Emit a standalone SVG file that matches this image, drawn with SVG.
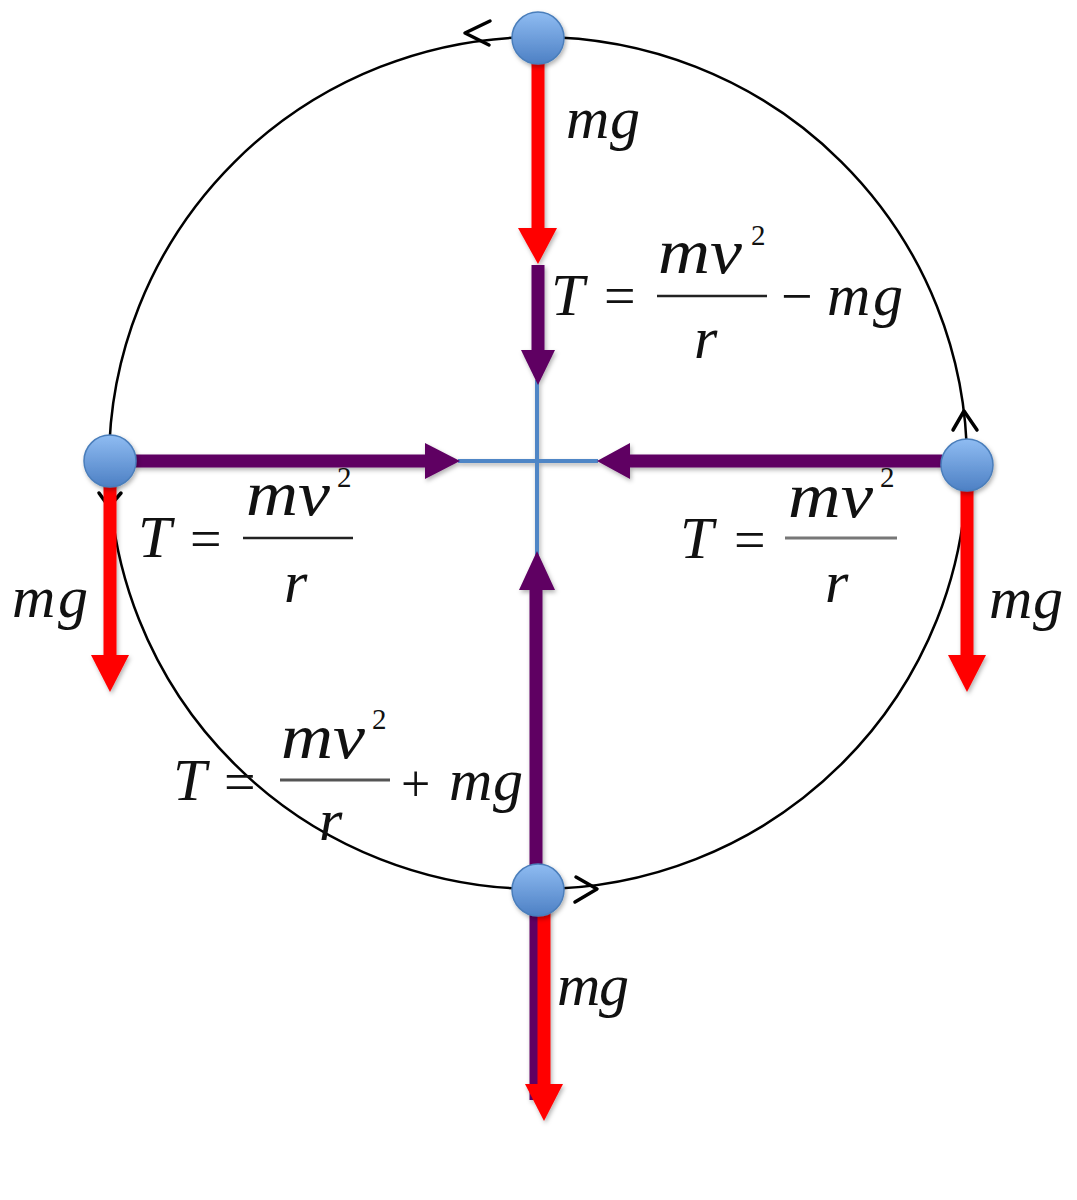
<svg xmlns="http://www.w3.org/2000/svg" width="1077" height="1200" viewBox="0 0 1077 1200">
<style>
.t{font-family:"Liberation Serif","Times New Roman",serif;font-style:italic;fill:#111}
.n{font-family:"Liberation Serif","Times New Roman",serif;fill:#111}
.red{stroke:#ff0000;stroke-width:13;fill:none}
.redh{fill:#ff0000}
.pur{stroke:#5e0062;stroke-width:13;fill:none}
.purh{fill:#5e0062}
.str{stroke:#4f86c6;stroke-width:4;fill:none}
.chev{stroke:#000;stroke-width:3.5;fill:none;stroke-linecap:round;stroke-linejoin:round}
.bar{stroke:#222;stroke-width:2.5}
.ball{fill:url(#bg);stroke:#4a7ebb;stroke-width:1.5}
</style>
<defs>
<linearGradient id="bg" x1="0" y1="0" x2="0" y2="1">
<stop offset="0" stop-color="#8fbcf2"/>
<stop offset="1" stop-color="#4d80c4"/>
</linearGradient>
<filter id="sh" x="-30%" y="-30%" width="160%" height="160%">
<feDropShadow dx="1.5" dy="2.5" stdDeviation="2" flood-color="#000" flood-opacity="0.3"/>
</filter>
</defs>
<rect width="1077" height="1200" fill="#fff"/>
<g id="path-circle">
<ellipse cx="538" cy="463" rx="429" ry="426" fill="none" stroke="#000" stroke-width="2.5"/>
<polyline class="chev" points="490,21 465,33 489,45"/>
<polyline class="chev" points="953,430 964,411 977,430"/>
<polyline class="chev" points="99,493 109,507 121,493"/>
<polyline class="chev" points="576,877 597,889 575,902"/>
</g>
<g id="connectors" filter="url(#sh)">
<line class="str" x1="537" y1="380" x2="537" y2="555"/>
<line class="str" x1="458" y1="461" x2="598" y2="461"/>
<line class="pur" x1="538" y1="265" x2="538" y2="352"/>
<polygon class="purh" points="521,350 555,350 538,385"/>
<line class="pur" x1="135" y1="461" x2="427" y2="461"/>
<polygon class="purh" points="425,443 425,479 460,461"/>
<line class="pur" x1="942" y1="461" x2="628" y2="461"/>
<polygon class="purh" points="630,443 630,479 597,461"/>
<line class="pur" x1="536" y1="1100" x2="536" y2="588"/>
<polygon class="purh" points="519,590 555,590 537,551"/>
<line class="red" x1="538" y1="60" x2="538" y2="230"/>
<polygon class="redh" points="518,228 557,228 538,264"/>
<line class="red" x1="110" y1="480" x2="110" y2="657"/>
<polygon class="redh" points="91,655 129,655 110,692"/>
<line class="red" x1="967" y1="485" x2="967" y2="657"/>
<polygon class="redh" points="948,655 986,655 967,692"/>
<line class="red" x1="544" y1="900" x2="544" y2="1086"/>
<polygon class="redh" points="525,1084 563,1084 544,1121"/>
</g>
<g id="ball-top" filter="url(#sh)"><circle class="ball" cx="538" cy="38" r="26"/></g>
<g id="ball-left" filter="url(#sh)"><circle class="ball" cx="110" cy="461" r="26"/></g>
<g id="ball-right" filter="url(#sh)"><circle class="ball" cx="967" cy="465" r="26"/></g>
<g id="ball-bottom" filter="url(#sh)"><circle class="ball" cx="538" cy="890" r="26"/></g>
<g id="label-mg-top"><text class="t" x="566" y="138" font-size="60" textLength="74" lengthAdjust="spacing">mg</text></g>
<g id="label-mg-left"><text class="t" x="12" y="617" font-size="60" textLength="76" lengthAdjust="spacing">mg</text></g>
<g id="label-mg-right"><text class="t" x="989" y="618" font-size="60" textLength="74" lengthAdjust="spacing">mg</text></g>
<g id="label-mg-bottom"><text class="t" x="557" y="1005" font-size="60" textLength="72" lengthAdjust="spacing">mg</text></g>
<g id="eq-top">
<text class="t" x="551" y="315" font-size="60">T</text>
<text class="n" x="604" y="315" font-size="56">=</text>
<text class="t" x="658" y="273" font-size="63" textLength="84" lengthAdjust="spacingAndGlyphs">mv</text>
<text class="n" x="751" y="245" font-size="29">2</text>
<line class="bar" x1="657" y1="296" x2="767" y2="296"/>
<text class="t" x="694" y="358" font-size="60">r</text>
<text class="n" x="781" y="315" font-size="56">−</text>
<text class="t" x="827" y="315" font-size="60" textLength="76" lengthAdjust="spacing">mg</text>
</g>
<g id="eq-left">
<text class="t" x="246" y="515" font-size="63" textLength="84" lengthAdjust="spacingAndGlyphs">mv</text>
<text class="t" x="138" y="557" font-size="60">T</text>
<text class="n" x="190" y="558" font-size="56">=</text>
<text class="n" x="337" y="487" font-size="29">2</text>
<line class="bar" x1="243" y1="538" x2="353" y2="538"/>
<text class="t" x="284" y="602" font-size="60">r</text>
</g>
<g id="eq-right">
<text class="t" x="680" y="558" font-size="60">T</text>
<text class="n" x="734" y="559" font-size="56">=</text>
<text class="t" x="788" y="517" font-size="63" textLength="85" lengthAdjust="spacingAndGlyphs">mv</text>
<text class="n" x="880" y="487" font-size="29">2</text>
<line x1="785" y1="538" x2="897" y2="538" stroke="#777" stroke-width="3"/>
<text class="t" x="825" y="602" font-size="60">r</text>
</g>
<g id="eq-bottom">
<text class="t" x="173" y="800" font-size="60">T</text>
<text class="n" x="224" y="801" font-size="56">=</text>
<text class="t" x="281" y="758" font-size="63" textLength="84" lengthAdjust="spacingAndGlyphs">mv</text>
<text class="n" x="372" y="729" font-size="29">2</text>
<line x1="280" y1="780" x2="390" y2="780" stroke="#555" stroke-width="3"/>
<text class="t" x="319" y="840" font-size="60">r</text>
<text class="n" x="401" y="801" font-size="52">+</text>
<text class="t" x="449" y="800" font-size="60" textLength="74" lengthAdjust="spacing">mg</text>
</g>
</svg>
